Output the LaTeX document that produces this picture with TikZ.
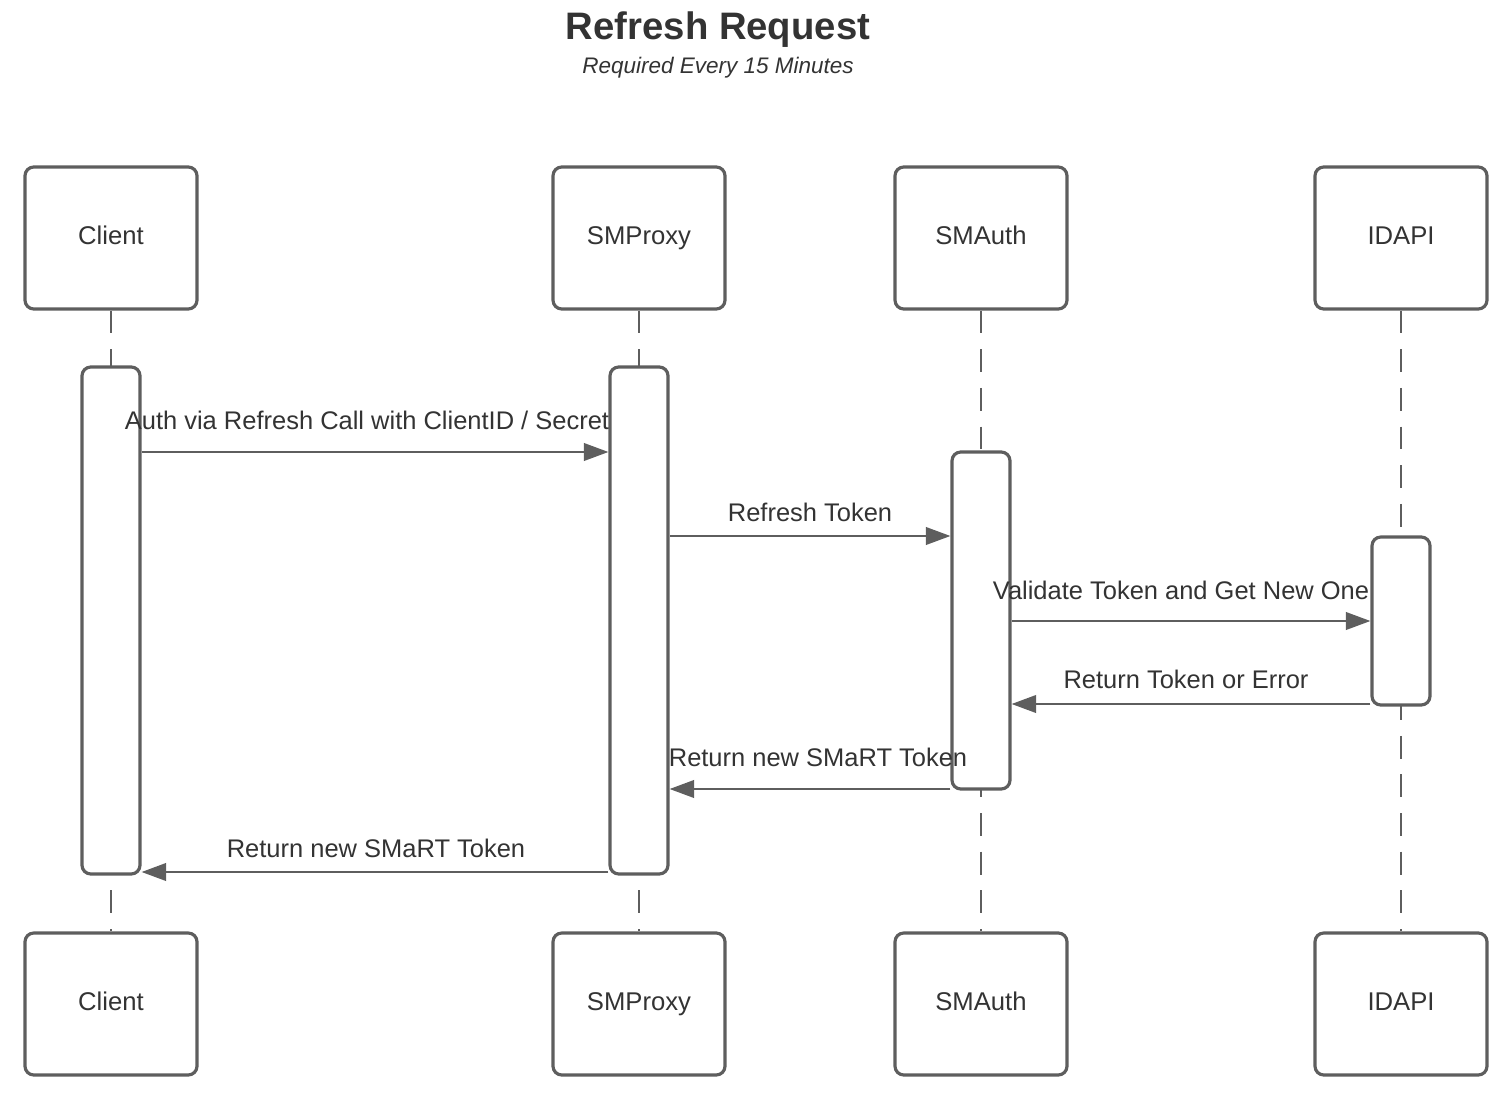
\documentclass[tikz,border=0pt]{standalone}
\usepackage{fontspec}
\setmainfont{Liberation Sans}
\usetikzlibrary{arrows.meta}
\definecolor{ln}{HTML}{5E5E5E}
\definecolor{tx}{HTML}{333333}
\begin{document}
\begin{tikzpicture}[x=0.02cm,y=-0.02cm,
  actor/.style={draw=ln,line width=1.8pt,rounded corners=5pt,minimum width=172*0.02cm,minimum height=142*0.02cm,inner sep=0pt,text=tx,font=\fontsize{14.6}{16}\selectfont,text height=10.5pt,text depth=3pt},
  act/.style={draw=ln,fill=white,line width=1.8pt,rounded corners=5pt,minimum width=58*0.02cm,inner sep=0pt},
  life/.style={draw=ln,line width=1.3pt,dash pattern=on 13pt off 9pt},
  msg/.style={draw=ln,line width=1.3pt,-{Triangle[length=14pt,width=10pt]}},
  lbl/.style={text=tx,font=\fontsize{14.5}{16}\selectfont,inner sep=0pt}]
\useasboundingbox (0,0) rectangle (1498,1098);
% title
\node[text=tx,font=\fontsize{21.8}{24}\selectfont\bfseries] (title) at (718,30) {Refresh Request};
\node[text=tx,font=\fontsize{12.8}{14}\selectfont\itshape] (sub) at (718,68) {Required Every 15 Minutes};
% actors
\foreach \n/\t/\x in {c/Client/111,p/SMProxy/639,a/SMAuth/981,i/IDAPI/1401}{
  \node[actor] (\n top) at (\x,238) {\t};
  \node[actor] (\n bot) at (\x,1004) {\t};
  \draw[life] (\n top.south) -- (\n bot.north);
}
% activations
\node[act,minimum height=507*0.02cm] (cact) at (111,620.5) {};
\node[act,minimum height=507*0.02cm] (pact) at (639,620.5) {};
\node[act,minimum height=337*0.02cm] (aact) at (981,620.5) {};
\node[act,minimum height=168*0.02cm] (iact) at (1401,621) {};
% messages
\coordinate (m1) at (0,452);
\draw[msg] (cact.east |- m1) -- (pact.west |- m1);
\node[lbl] (l1) at (367,420) {Auth via Refresh Call with ClientID / Secret};
\coordinate (m2) at (0,536);
\draw[msg] (pact.east |- m2) -- (aact.west |- m2);
\node[lbl] (l2) at (810,512) {Refresh Token};
\coordinate (m3) at (0,621);
\draw[msg] (aact.east |- m3) -- (iact.west |- m3);
\node[lbl] (l3) at (1181,590) {Validate Token and Get New One};
\coordinate (m4) at (0,704);
\draw[msg] (iact.west |- m4) -- (aact.east |- m4);
\node[lbl] (l4) at (1186,679) {Return Token or Error};
\coordinate (m5) at (0,789);
\draw[msg] (aact.west |- m5) -- (pact.east |- m5);
\node[lbl] (l5) at (818,757) {Return new SMaRT Token};
\coordinate (m6) at (0,872);
\draw[msg] (pact.west |- m6) -- (cact.east |- m6);
\node[lbl] (l6) at (376,848) {Return new SMaRT Token};
\end{tikzpicture}
\end{document}
